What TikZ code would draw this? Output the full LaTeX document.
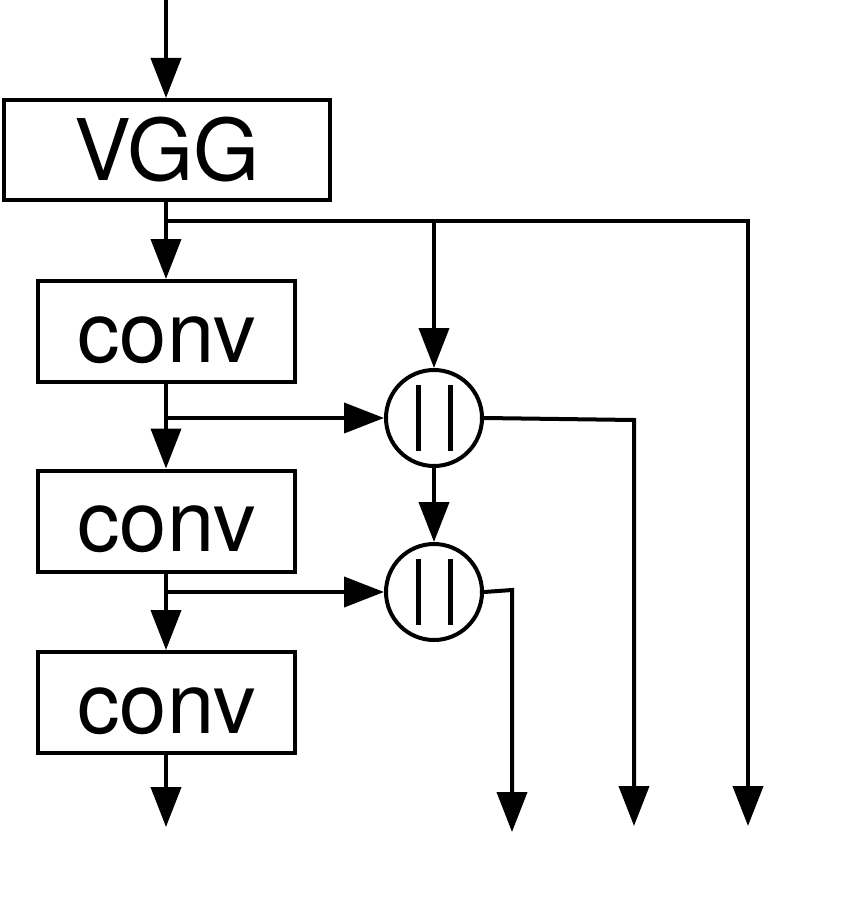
\documentclass[tikz,border=0pt]{standalone}
\usepackage{fontspec}
\setmainfont{TeX Gyre Heros}
\usetikzlibrary{arrows.meta}
\begin{document}
\begin{tikzpicture}[x=1pt, y=-1pt, line width=4pt,
        >={Triangle[width=30pt,length=40pt]},
        every node/.style={font=\fontsize{85}{100}\selectfont},
        block/.style={draw, rectangle, minimum height=101pt, text height=61pt, text depth=0pt, inner sep=0pt},
        merge/.style={draw, circle, minimum size=96pt, inner sep=0pt,
            path picture={
                \draw[line width=5pt] ([xshift=-16pt,yshift=33pt]path picture bounding box.center) -- ++(0,-66pt);
                \draw[line width=5pt] ([xshift=16pt,yshift=33pt]path picture bounding box.center) -- ++(0,-66pt);
            }}]
        \useasboundingbox (0,0) rectangle (854,904);
        \node[block, minimum width=326pt, minimum height=100pt] (vgg) at (167,150) {VGG};
        \foreach \index/\ypos in {1/331.5,2/521,3/702.5}
            \node[block, minimum width=257pt] (conv-\index) at (166.5,\ypos) {conv};
        \node[merge] (merge-1) at (434,418) {};
        \node[merge] (merge-2) at (434,592) {};
        \coordinate (in) at (166,0);
        \coordinate (out-0) at (166,827);
        \coordinate (out-1) at (512,832);
        \coordinate (out-2) at (634,826);
        \coordinate (out-3) at (748,826);
        % main chain
        \draw[->] (in) -- (vgg.north -| in);
        \draw[->] (vgg.south -| in) -- (conv-1.north -| in);
        \draw[->] (conv-1.south -| in) -- (conv-2.north -| in);
        \draw[->] (conv-2.south -| in) -- (conv-3.north -| in);
        \draw[->] (conv-3.south -| in) -- (out-0);
        % side branches
        \draw[->] (166,221) -| (out-3);
        \draw[->] (merge-1.north |- 0,221) -- (merge-1.north);
        \draw[->] (in |- merge-1.west) -- (merge-1.west);
        \draw[->] (in |- merge-2.west) -- (merge-2.west);
        \draw[->] (merge-1.south) -- (merge-2.north);
        \draw[->] (merge-1.east) -- (634,420) -- (out-2);
        \draw[->] (merge-2.east) -- (512,590) -- (out-1);
    \end{tikzpicture}
\end{document}
